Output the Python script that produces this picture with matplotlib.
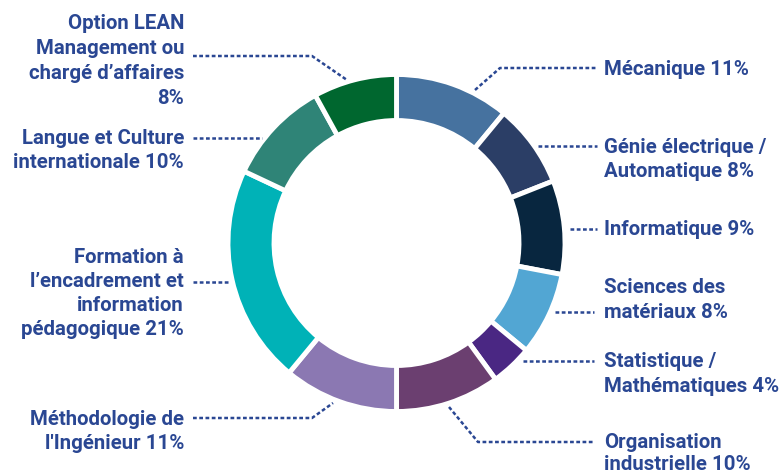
import matplotlib.pyplot as plt

W, H = 781, 474

categories = ["Mécanique", "Génie électrique / Automatique", "Informatique",
              "Sciences des matériaux", "Statistique / Mathématiques",
              "Organisation industrielle", "Méthodologie de l'Ingénieur",
              "Formation à l’encadrement et information pédagogique",
              "Langue et Culture internationale",
              "Option LEAN Management ou chargé d’affaires"]
shares = [11, 8, 9, 8, 4, 10, 11, 21, 10, 8]
colors = ["#46729f", "#2b3e66", "#08263f", "#52a6d3", "#4a2783",
          "#6b3f70", "#8b78b2", "#00b2b7", "#2f8477", "#00672f"]

label_lines = [
    ["Mécanique 11%"],
    ["Génie électrique /", "Automatique 8%"],
    ["Informatique 9%"],
    ["Sciences des", "matériaux 8%"],
    ["Statistique /", "Mathématiques 4%"],
    ["Organisation", "industrielle 10%"],
    ["Méthodologie de", "l'Ingénieur 11%"],
    ["Formation à", "l’encadrement et", "information", "pédagogique 21%"],
    ["Langue et Culture", "internationale 10%"],
    ["Option LEAN", "Management ou", "chargé d’affaires", "8%"],
]

# layout (pixel coords, y from top)
label_side = ["r", "r", "r", "r", "r", "r", "l", "l", "l", "l"]
label_y = [[68], [146, 170], [228], [286, 311], [360, 385], [441, 463],
           [418, 442], [256, 280, 304, 328], [137, 161], [22, 47, 72, 97]]
leaders = [
    [(475, 90), (500, 68), (597, 68)],
    [(538, 146), (597, 146)],
    [(570, 229), (597, 229)],
    [(555, 312), (594, 312)],
    [(523, 361), (594, 361)],
    [(449, 407), (478, 442), (594, 442)],
    [(193, 418), (312, 418), (333, 403)],
    [(193, 282), (228, 282)],
    [(193, 138), (262, 138)],
    [(193, 56), (312, 56), (347, 80)],
]

txt_color = "#2a4793"
plt.rcParams['font.family'] = ['Roboto', 'DejaVu Sans']

fig = plt.figure(figsize=(W / 100, H / 100), dpi=100)
ax = fig.add_axes([0, 0, 1, 1])

ax.pie(shares, colors=colors, startangle=90, counterclock=False,
       center=(396.5, H - 243), radius=168.5,
       wedgeprops=dict(width=46, edgecolor="white", linewidth=3.5))

for i in range(len(categories)):
    xs = [p[0] for p in leaders[i]]
    ys = [H - p[1] for p in leaders[i]]
    ax.plot(xs, ys, color=txt_color, lw=1.8, linestyle=(0, (1.5, 1.0)),
            solid_capstyle="butt", dash_capstyle="butt")
    for line, y in zip(label_lines[i], label_y[i]):
        if label_side[i] == "r":
            ax.text(604, H - y - 7, line, ha="left", va="baseline",
                    fontsize=14.7, fontweight="bold", color=txt_color)
        else:
            ax.text(184, H - y - 7, line, ha="right", va="baseline",
                    fontsize=14.7, fontweight="bold", color=txt_color)

ax.set_xlim(0, W)
ax.set_ylim(0, H)
ax.set_aspect("equal")
ax.axis("off")

fig.savefig("out.png", dpi=100, facecolor="white")
